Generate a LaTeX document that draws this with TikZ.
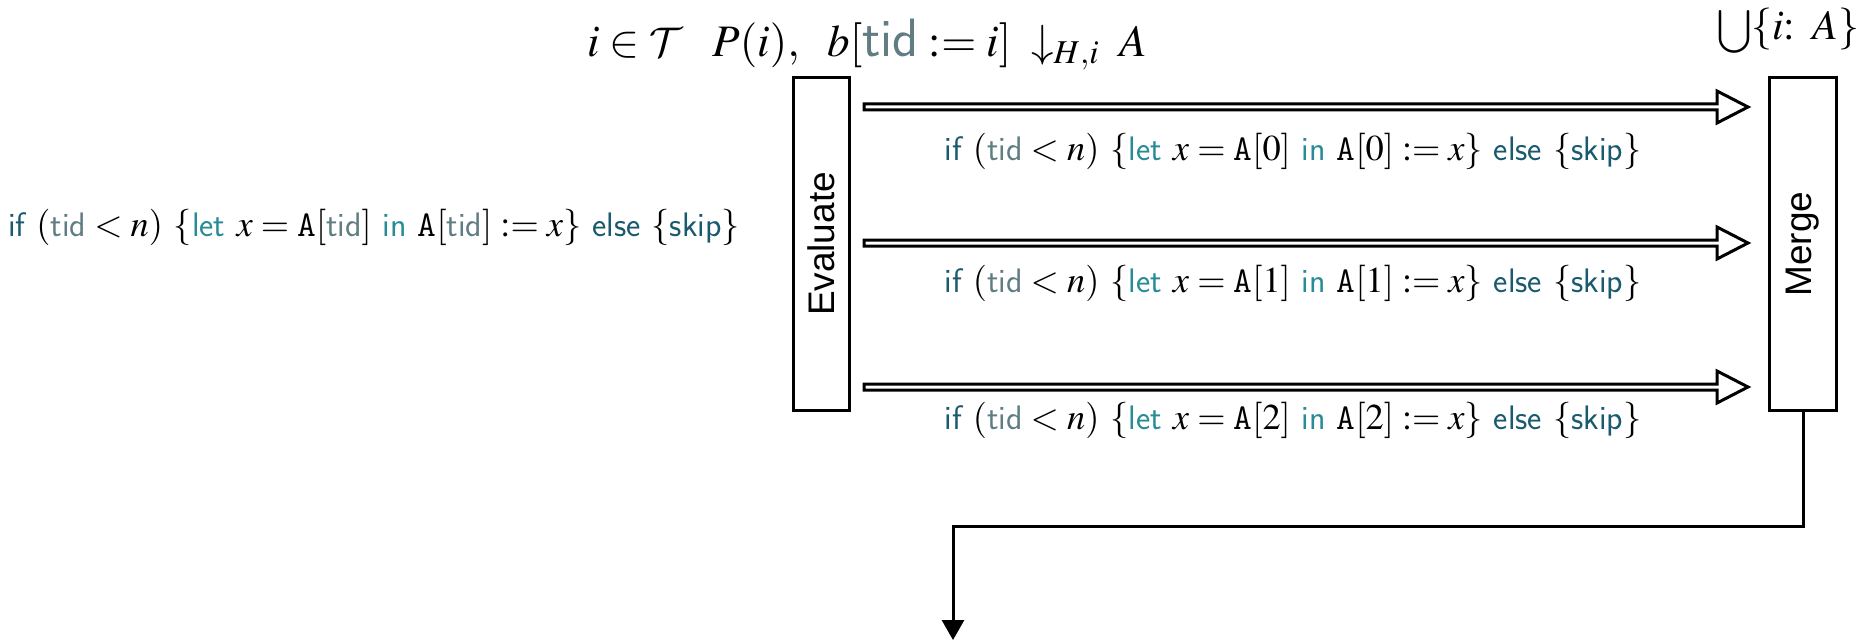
\documentclass[tikz,border=0pt]{standalone}
\usepackage{mathptmx}
\DeclareMathAlphabet{\mathcal}{OMS}{cmsy}{m}{n}
\usepackage[no-math]{fontspec}
\newfontfamily\boxfont{Liberation Sans}
\usetikzlibrary{calc,arrows.meta}
\definecolor{kwdark}{HTML}{1A5A6E}
\definecolor{kwtid}{HTML}{5F7D82}
\definecolor{kwlet}{HTML}{288C96}
% keyword in code labels
\newcommand\kw[2]{\mbox{\sffamily\fontsize{17}{19}\selectfont\color{#1}#2}}
% keyword in the large top text
\newcommand\kwbig[2]{\mbox{\sffamily\fontsize{27}{30}\selectfont\color{#1}#2}}
\newcommand\ttA{\mbox{\ttfamily A}}
\newcommand\codeline[1]{$\kw{kwdark}{if}\ (\kw{kwtid}{tid} < n)\ \{\kw{kwlet}{let}\ x = \ttA[#1]\ \kw{kwlet}{in}\ \ttA[#1] \mathrel{:=} x\}\ \kw{kwdark}{else}\ \{\kw{kwdark}{skip}\}$}
\newcommand\hollowarrow[2]{%
  \draw[hollow] ($(#1)+(0,3)$) -- ($(#2)+(-31,3)$) -- ($(#2)+(-31,16)$) -- (#2)
    -- ($(#2)+(-31,-16)$) -- ($(#2)+(-31,-3)$) -- ($(#1)+(0,-3)$) -- cycle;}
\tikzset{
  procbox/.style={draw, line width=1.5pt, minimum width=#1, minimum height=166.5pt, inner sep=0pt},
  boxlabel/.style={rotate=90, font=\boxfont\fontsize{18.5}{20}\selectfont},
  hollow/.style={line width=1.5pt, fill=white, line join=miter},
  codetext/.style={inner sep=0pt, font=\fontsize{18.2}{21}\selectfont},
  toptext/.style={inner sep=0pt, font=\fontsize{22.5}{26}\selectfont},
  outline/.style={line width=1.5pt, -{Triangle[length=10pt,width=11pt]}}
}
\begin{document}
\begin{tikzpicture}[x=0.5pt,y=-0.5pt]
\useasboundingbox (0,0) rectangle (1864,642);
% boxes
\node[procbox=28pt, label={[boxlabel]center:Evaluate}] (ev) at (821.5,244) {};
\node[procbox=33.5pt, label={[boxlabel]center:Merge}] (mg) at (1803,244) {};
% top texts
\node[toptext, anchor=base west] (tset) at (587,57) {$i \in \mathcal{T}$};
\node[toptext, anchor=base west] (teval) at (712,57) {$P(i),\hspace{0.5em}b[\kwbig{kwtid}{tid} \mathrel{:=} i]\;\downarrow_{H,i}\;A$};
\node[inner sep=0pt, font=\fontsize{21}{24}\selectfont, anchor=base east] (tmerge) at (1860,40) {$\mbox{\fontsize{17}{20}\selectfont$\displaystyle\bigcup$}\{i\colon\ A\}$};
% program
\node[codetext] (prog) at (374,227) {\codeline{\kw{kwtid}{tid}}};
% arrows
\coordinate (s1) at ($(ev.east)+(13,-137)$);
\coordinate (e1) at ($(mg.west)+(-20,-137)$);
\coordinate (s2) at ($(ev.east)+(13,-1)$);
\coordinate (e2) at ($(mg.west)+(-20,-1)$);
\coordinate (s3) at ($(ev.east)+(13,143)$);
\coordinate (e3) at ($(mg.west)+(-20,143)$);
\hollowarrow{s1}{e1}
\hollowarrow{s2}{e2}
\hollowarrow{s3}{e3}
\node[codetext] (c0) at (1293,151) {\codeline{0}};
\node[codetext] (c1) at (1293,283) {\codeline{1}};
\node[codetext] (c2) at (1293,420) {\codeline{2}};
% output
\coordinate (out) at (953,640);
\draw[outline] (mg.south) -- ++(0,114) -| (out);
\end{tikzpicture}
\end{document}
